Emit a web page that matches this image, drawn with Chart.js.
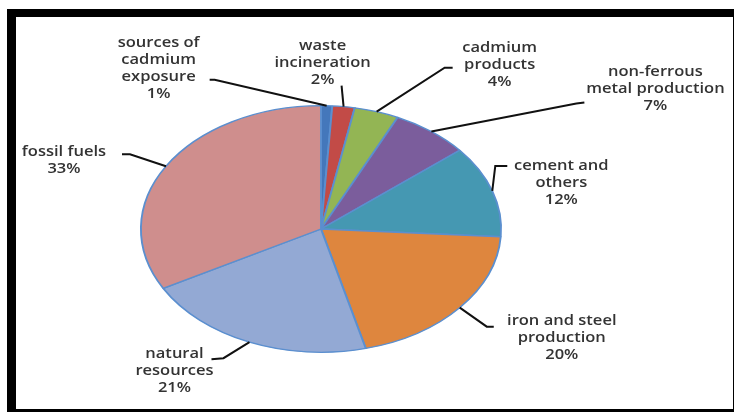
<!DOCTYPE html>
<html lang="en">
<head>
<meta charset="UTF-8">
<title>Sources of cadmium exposure</title>
<script src="https://cdn.jsdelivr.net/npm/chart.js"></script>
<style>
    body { margin: 0; background: #fff; }
    #wrap { position: relative; width: 734px; height: 412px; }
    #frame {
        position: absolute; left: 7px; top: 9px; width: 727px; height: 403px;
        box-sizing: border-box;
        border-top: 8px solid #000; border-left: 9px solid #000;
        border-bottom: 3px solid #000; border-right: 1px solid #000;
    }
    canvas { position: absolute; left: 0; top: 0; }
</style>
</head>
<body>
<div id="wrap">
    <canvas id="pie" width="734" height="412"></canvas>
    <div id="frame"></div>
</div>
<script>
    // categories (line-broken as in the figure) and shares in percent
    var categories = [
        ['sources of', 'cadmium', 'exposure'],
        ['waste', 'incineration'],
        ['cadmium', 'products'],
        ['non-ferrous', 'metal production'],
        ['cement and', 'others'],
        ['iron and steel', 'production'],
        ['natural', 'resources'],
        ['fossil fuels']
    ];
    var shares = [1, 2, 4, 7, 12, 20, 21, 33];

    var colors = ['#4477bb', '#c24b47', '#93b554', '#7b5d9c', '#4598b2', '#de863e', '#93a9d4', '#cf8e8d'];

    // label placement relative to the slice's outer edge point: [elbow, line end, text]
    var labelOffsets = [
        [[-112, -26], [-117, -26], [-168, -63]],
        [[-2, -21], [-2, -21], [-21, -61]],
        [[68, -44], [76, -44], [123, -64]],
        [[145, -28], [153, -29], [224, -60]],
        [[3, -25], [15, -25], [69, -25]],
        [[27, 19], [34, 19], [102, 13]],
        [[-26, 16], [-38, 17], [-75, 12]],
        [[-36, -12], [-44, -12], [-102, -14]]
    ];

    var SX = 1.46;     // the pie in the figure is an ellipse, wider than tall
    var TX = 1.18;     // text is stretched a bit too
    var LINE = 17;

    var ellipse = {
        id: 'ellipse',
        beforeDatasetsDraw: function (chart) {
            var arc = chart.getDatasetMeta(0).data[0];
            var ctx = chart.ctx;
            ctx.save();
            ctx.translate(arc.x, arc.y);
            ctx.scale(SX, 1);
            ctx.translate(-arc.x, -arc.y);
        },
        afterDatasetsDraw: function (chart) {
            chart.ctx.restore();
        }
    };

    var leaderLabels = {
        id: 'leaderLabels',
        afterDraw: function (chart) {
            var ctx = chart.ctx;
            var arcs = chart.getDatasetMeta(0).data;
            ctx.save();
            arcs.forEach(function (arc, i) {
                var mid = (arc.startAngle + arc.endAngle) / 2;
                var ex = arc.x + SX * arc.outerRadius * Math.cos(mid);
                var ey = arc.y + arc.outerRadius * Math.sin(mid);
                var o = labelOffsets[i];
                ctx.strokeStyle = '#111';
                ctx.lineWidth = 2;
                ctx.beginPath();
                ctx.moveTo(ex, ey);
                ctx.lineTo(ex + o[0][0], ey + o[0][1]);
                ctx.lineTo(ex + o[1][0], ey + o[1][1]);
                ctx.stroke();

                var lines = categories[i].concat([shares[i] + '%']);
                ctx.fillStyle = '#333';
                ctx.font = '600 14px "Open Sans"';
                ctx.textAlign = 'center';
                ctx.textBaseline = 'middle';
                lines.forEach(function (t, k) {
                    ctx.save();
                    ctx.translate(ex + o[2][0], ey + o[2][1] + k * LINE);
                    ctx.scale(TX, 1);
                    ctx.fillText(t, 0, 0);
                    ctx.restore();
                });
            });
            ctx.restore();
        }
    };

    new Chart(document.getElementById('pie'), {
        type: 'pie',
        data: {
            labels: categories,
            datasets: [{
                data: shares,
                backgroundColor: colors,
                borderColor: '#5b8fcf',
                borderWidth: 1.3
            }]
        },
        options: {
            responsive: false,
            animation: false,
            layout: { padding: { left: 197, right: 289, top: 105, bottom: 59 } },
            plugins: {
                legend: { display: false },
                tooltip: { enabled: false }
            }
        },
        plugins: [ellipse, leaderLabels]
    });
</script>
</body>
</html>
